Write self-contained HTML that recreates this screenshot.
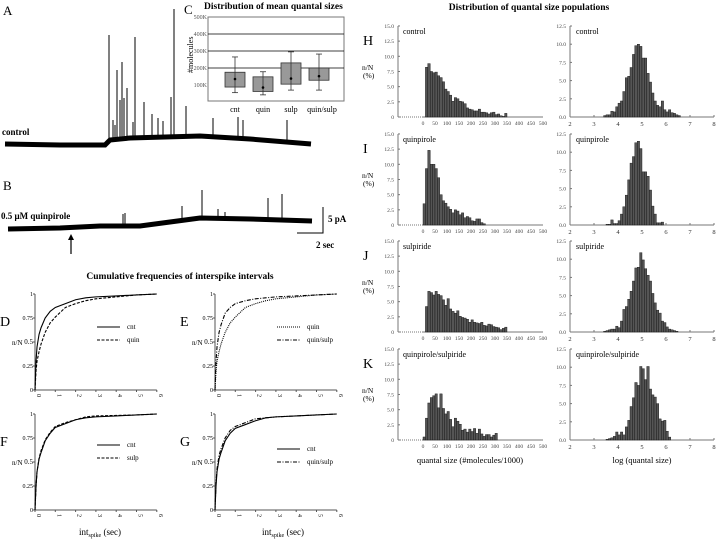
<!DOCTYPE html>
<html><head><meta charset="utf-8"><style>
html,body{margin:0;padding:0;background:#fff}
svg{display:block;font-family:"Liberation Serif",serif}
</style></head><body>
<svg id="fig" width="720" height="542" viewBox="0 0 720 542" xmlns="http://www.w3.org/2000/svg">
<g id="static">
<text x="3" y="15" font-size="13">A</text>
<text x="2" y="135" font-size="9" font-weight="bold">control</text>
<text x="3" y="190" font-size="13">B</text>
<text x="1" y="219" font-size="9" font-weight="bold">0.5 μM quinpirole</text>
<line x1="71" y1="254" x2="71" y2="238" stroke="#000" stroke-width="1.2"/>
<path d="M68,240 L71,234 L74,240 Z" fill="#000"/>
<path d="M323,207 L323,233 L297,233" fill="none" stroke="#000" stroke-width="1"/>
<text x="328" y="222" font-size="9" font-weight="bold">5 pA</text>
<text x="316" y="248" font-size="9" font-weight="bold">2 sec</text>
<text x="184" y="14" font-size="13">C</text>
<text x="204" y="9" font-size="9.5" font-weight="bold">Distribution of mean quantal sizes</text>
<text x="0" y="0" font-size="8" transform="translate(193,73) rotate(-90)">#molecules</text>
<text x="180" y="279" font-size="9.5" font-weight="bold" text-anchor="middle">Cumulative frequencies of interspike intervals</text>
<text x="100" y="535" font-size="9" text-anchor="middle">int<tspan font-size="6" dy="2">spike</tspan><tspan dy="-2"> (sec)</tspan></text>
<text x="283" y="535" font-size="9" text-anchor="middle">int<tspan font-size="6" dy="2">spike</tspan><tspan dy="-2"> (sec)</tspan></text>
<text x="529" y="10" font-size="9.5" font-weight="bold" text-anchor="middle">Distribution of quantal size populations</text>
<text x="470" y="463" font-size="8.5" text-anchor="middle">quantal size (#molecules/1000)</text>
<text x="642" y="463" font-size="8.5" text-anchor="middle">log (quantal size)</text>
</g>
<g id="dyn"></g>
</svg>
<script>
const traceA = [[5,144],[60,145],[105,145],[110,140],[130,138],[200,136],[250,139],[311,144]];
const spikesAx = [109,113,115,117,120,122,124,127,133,135,144,152,158,163,171,174,186,213,238,243,287];
const spikesAtop = [35,120,125,70,100,62,98,88,122,37,102,114,118,121,97,9,106,118,117,120,120];
const traceB = [[8,229],[60,228],[100,226],[140,226],[170,222],[200,218],[250,219],[312,221]];
const spikesBx = [123,125,182,202,218,225,268,282];
const spikesBtop = [214,213,206,190,209,212,198,194];

const boxCats = ["cnt","quin","sulp","quin/sulp"];
const boxLow = [88,62,105,128];
const boxHigh = [175,148,230,200];
const boxMean = [135,85,138,152];
const whiskLow = [55,42,70,70];
const whiskHigh = [265,178,295,282];
const boxTicks = ["100K","200K","300K","400K","500K"];

const cumX = [0,0.05,0.1,0.2,0.3,0.5,0.75,1,1.5,2,2.5,3,4,5,6];
const D_cnt = [0,0.3,0.45,0.58,0.65,0.75,0.82,0.86,0.9,0.94,0.96,0.97,0.98,0.99,1.0];
const D_quin = [0,0.2,0.3,0.4,0.48,0.6,0.7,0.76,0.86,0.9,0.93,0.95,0.97,0.99,1.0];
const E_quin = [0,0.2,0.3,0.4,0.48,0.6,0.7,0.76,0.86,0.9,0.93,0.95,0.97,0.99,1.0];
const E_qs = [0,0.3,0.45,0.6,0.68,0.8,0.86,0.9,0.93,0.95,0.96,0.97,0.98,0.99,1.0];
const F_cnt = [0,0.25,0.4,0.53,0.6,0.72,0.8,0.86,0.9,0.94,0.96,0.97,0.98,0.99,1.0];
const F_sulp = [0,0.24,0.4,0.54,0.62,0.73,0.81,0.87,0.91,0.94,0.97,0.98,0.985,0.99,1.0];
const G_cnt = [0,0.25,0.4,0.53,0.6,0.72,0.8,0.85,0.89,0.93,0.96,0.97,0.98,0.99,1.0];
const G_qs = [0,0.28,0.43,0.57,0.64,0.75,0.83,0.87,0.91,0.95,0.96,0.97,0.98,0.99,1.0];
const cumYTicks = ["0","0.25","0.5","0.75","1"];

const histH_L = [8.2,8.8,7.5,7.3,7.4,6.8,6.5,5.8,4.6,4.2,3.6,2.6,3.2,3.0,2.6,2.5,2.2,1.5,1.3,1.2,1.0,1.0,1.3,0.8,0.8,0.7,0.5,0.7,0.8,0.4,0.5,0.2,0.1,0.6];
const histI_L = [3.5,9.3,12.3,10.0,10.0,9.3,7.8,5.0,4.0,3.6,3.0,2.6,2.0,2.5,2.3,1.7,2.0,1.2,1.4,1.2,0.7,0.6,1.0,1.0,0.4,0.2];
const histJ_L = [4.2,6.7,6.5,6.1,6.7,6.2,6.0,5.3,4.4,5.5,3.8,3.4,3.1,3.5,2.6,2.4,2.3,2.1,1.6,2.0,1.6,1.5,1.4,1.6,1.1,1.0,1.3,1.2,0.9,0.8,0.7,0.4,0.6,0.8];
const histK_L = [0.5,3.6,6.1,7.0,7.3,7.6,5.3,7.6,5.2,4.3,4.7,3.4,2.2,3.6,3.1,2.6,1.6,1.8,1.3,1.8,1.4,1.9,1.1,1.8,1.0,0.6,0.9,0.9,0.5,0.8,1.1];
const startL = [10,0,10,0];
const histH_R = [0.2,0.3,0.3,0.8,0.7,1.4,1.9,2.2,3.5,5.4,5.6,6.8,8.6,9.8,10.0,9.7,8.1,8.1,6.0,4.8,3.3,2.2,1.6,1.4,2.2,1.0,0.7,1.0,0.6,0.5,0.3,0.2];
const histI_R = [0.1,0.1,0.7,0.2,0.2,0.6,1.5,2.5,4.1,6.2,8.5,9.4,11.3,11.5,10.5,7.3,7.3,6.7,4.8,2.6,1.5,0.3,0.3,0.4];
const histJ_R = [0.1,0.2,0.3,0.4,0.4,0.8,0.6,1.5,3.1,3.5,4.5,5.6,7.0,8.8,8.9,10.9,9.9,8.7,7.8,7.0,5.3,4.0,3.0,2.6,1.5,1.3,0.7,0.4,0.3,0.2,0.1];
const histK_R = [0.1,0.2,0.3,0.5,1.1,0.7,1.1,0.7,1.8,2.7,4.6,5.8,7.9,7.5,10.1,9.8,8.3,10.1,7.0,6.2,5.9,5.0,2.9,2.6,2.7,1.2,0.4];
const startR = [3.4,3.5,3.4,3.5];
const histNames = ["control","quinpirole","sulpiride","quinpirole/sulpiride"];
const histLetters = ["H","I","J","K"];
const leftYTicks = ["0","2.5","5.0","7.5","10.0","12.5","15.0"];
const rightYTicks = ["0.0","2.5","5.0","7.5","10.0","12.5"];
const leftXTicks = [0,50,100,150,200,250,300,350,400,450,500];
const rightXTicks = [2,3,4,5,6,7,8];

const NS="http://www.w3.org/2000/svg";
const root=document.getElementById('dyn');
function mk(tag,attrs,parent){const e=document.createElementNS(NS,tag);for(const k in attrs)e.setAttribute(k,attrs[k]);(parent||root).appendChild(e);return e;}
function txt(x,y,s,size,anchor,parent){const t=mk('text',{x:x,y:y,'font-size':size,'text-anchor':anchor||'start'},parent);t.textContent=s;return t;}

function trace(pts,xs,tops,name){
  const g=mk('g',{});
  
  
  mk('polyline',{points:pts.map(p=>p.join(',')).join(' '),fill:'none',stroke:'#000','stroke-width':5},g);
  const base=x=>{for(let i=1;i<pts.length;i++){if(x<=pts[i][0]){const a=pts[i-1],b=pts[i];return a[1]+(b[1]-a[1])*(x-a[0])/(b[0]-a[0]);}}return pts[pts.length-1][1];};
  xs.forEach((x,i)=>{const l=mk('line',{x1:x,x2:x,y1:base(x),y2:tops[i],stroke:'#000','stroke-width':1},g);
    
    });
}
trace(traceA,spikesAx,spikesAtop,'trace-control');
trace(traceB,spikesBx,spikesBtop,'trace-quinpirole');

(function(){
  const g=mk('g',{});
  
  
  const x0=208,x1=344,yv=v=>102-v*0.17;
  mk('rect',{x:x0,y:17,width:x1-x0,height:84,fill:'#fff',stroke:'#777','stroke-width':1},g);
  boxTicks.forEach((t,i)=>{const y=yv((i+1)*100);
    if(i>0&&i<4) mk('line',{x1:x0,x2:x1,y1:y,y2:y,stroke:'#000','stroke-width':0.8},g);
    const tt=txt(x0-1,y+2,t,6,'end',g);tt.setAttribute('fill','#555');
    
    });
  const w=20,step=28,first=225;
  boxCats.forEach((c,i)=>{const x=first+i*step;
    const r=mk('rect',{x:x,y:yv(boxHigh[i]),width:w,height:yv(boxLow[i])-yv(boxHigh[i]),fill:'#999',stroke:'#333','stroke-width':0.8},g);
    
    
    const cx=x+w/2;
    mk('line',{x1:cx,x2:cx,y1:yv(whiskLow[i]),y2:yv(whiskHigh[i]),stroke:'#333','stroke-width':0.8},g);
    mk('line',{x1:cx-3,x2:cx+3,y1:yv(whiskLow[i]),y2:yv(whiskLow[i]),stroke:'#333','stroke-width':0.8},g);
    mk('line',{x1:cx-3,x2:cx+3,y1:yv(whiskHigh[i]),y2:yv(whiskHigh[i]),stroke:'#333','stroke-width':0.8},g);
    mk('circle',{cx:cx,cy:yv(boxMean[i]),r:1.3,fill:'#000'},g);
    const t=txt(cx+(i==3?3:0),112,c,8,'middle',g);
    
    });
})();

function cumPanel(letter,ox,oy,series,dashes,names,legendY){
  const g=mk('g',{});
  
  
  const xs=v=>ox+v*20.3, ys=v=>oy-v*96;
  mk('line',{x1:ox,x2:ox,y1:ys(1),y2:oy,stroke:'#555','stroke-width':1},g);
  mk('line',{x1:ox,x2:xs(6),y1:oy,y2:oy,stroke:'#555','stroke-width':1},g);
  cumYTicks.forEach((t,i)=>{const y=ys(i*0.25);mk('line',{x1:ox-2,x2:ox,y1:y,y2:y,stroke:'#555'},g);
    const tt=txt(ox-2,y+2,t,i==2?7:6,'end',g);
    
    });
  for(let k=0;k<=6;k++){const x=xs(k);mk('line',{x1:x,x2:x,y1:oy,y2:oy+2,stroke:'#555'},g);
    const t=mk('text',{x:0,y:0,'font-size':6,transform:`translate(${x+2},${oy+4}) rotate(90)`},g);t.textContent=k;
    
    }
  txt(ox-35,oy-64,letter,14,'start',g);
  txt(ox-23,ys(0.5)+3,'n/N',7,'start',g);
  series.forEach((s,j)=>{const p=mk('polyline',{points:cumX.map((v,i)=>xs(v)+','+ys(s[i])).join(' '),fill:'none',stroke:'#000','stroke-width':1.1,'stroke-dasharray':dashes[j]},g);
    
    
    const ly=legendY+j*13;
    mk('line',{x1:ox+62,x2:ox+85,y1:ly,y2:ly,stroke:'#000','stroke-width':1.1,'stroke-dasharray':dashes[j]},g);
    const t=txt(ox+92,ly+2,names[j],7,'start',g);
    
    });
}
cumPanel('D',35,390,[D_cnt,D_quin],['none','3,1.5'],['cnt','quin'],327);
cumPanel('E',215,390,[E_quin,E_qs],['1,1','4,1.5,1,1.5'],['quin','quin/sulp'],327);
cumPanel('F',35,510,[F_cnt,F_sulp],['none','3,1.5'],['cnt','sulp'],445);
cumPanel('G',215,510,[G_cnt,G_qs],['none','4,1.5,1,1.5'],['cnt','quin/sulp'],449);

const zeroY=[117,225,332,440];
const leftData=[histH_L,histI_L,histJ_L,histK_L];
const rightData=[histH_R,histI_R,histJ_R,histK_R];
zeroY.forEach((oy,p)=>{
  const g=mk('g',{});
  
  
  const lx=v=>423+v*0.24, ly=v=>oy-v*6.07;
  mk('line',{x1:398,x2:398,y1:ly(15),y2:oy,stroke:'#777'},g);
  mk('line',{x1:398,x2:423,y1:oy,y2:oy,stroke:'#777','stroke-dasharray':'1,1'},g);
  mk('line',{x1:423,x2:lx(500),y1:oy,y2:oy,stroke:'#777'},g);
  leftYTicks.forEach((t,i)=>{const y=ly(i*2.5);mk('line',{x1:398,x2:400,y1:y,y2:y,stroke:'#777'},g);
    const tt=txt(394,y+2,t,5.5,'end',g);tt.setAttribute('fill','#444');
    
    });
  leftXTicks.forEach(v=>{const tt=txt(lx(v),oy+8,String(v),5.5,'middle',g);tt.setAttribute('fill','#444');
    
    });
  leftData[p].forEach((v,i)=>{const b0=startL[p]+i*10;
    const r=mk('rect',{x:lx(b0),y:ly(v),width:2.4,height:oy-ly(v),fill:'#555',stroke:'#111','stroke-width':0.4},g);
    
    });
  txt(403,ly(15)+8,histNames[p],8,'start',g);
  txt(363,ly(15)+19,histLetters[p],14,'start',g);
  txt(362,ly(15)+44,'n/N',7.5,'start',g);txt(363,ly(15)+52,'(%)',7.5,'start',g);
  const h=mk('g',{});
  
  
  const rx=v=>570+(v-2)*24, ry=v=>oy-v*7.28;
  mk('line',{x1:570,x2:570,y1:ry(12.5),y2:oy,stroke:'#777'},h);
  mk('line',{x1:570,x2:rx(8),y1:oy,y2:oy,stroke:'#777'},h);
  rightYTicks.forEach((t,i)=>{const y=ry(i*2.5);mk('line',{x1:570,x2:572,y1:y,y2:y,stroke:'#777'},h);
    const tt=txt(566,y+2,t,5.5,'end',h);tt.setAttribute('fill','#444');
    
    });
  rightXTicks.forEach(v=>{mk('line',{x1:rx(v),x2:rx(v),y1:oy-2,y2:oy,stroke:'#777'},h);
    const tt=txt(rx(v),oy+9,String(v),6.5,'middle',h);tt.setAttribute('fill','#333');
    
    });
  rightData[p].forEach((v,i)=>{const b0=startR[p]+i*0.1;
    const r=mk('rect',{x:rx(b0),y:ry(v),width:2.4,height:oy-ry(v),fill:'#555',stroke:'#111','stroke-width':0.4},h);
    
    });
  txt(576,ry(12.5)+8,histNames[p],8,'start',h);
});
</script>
</body></html>
